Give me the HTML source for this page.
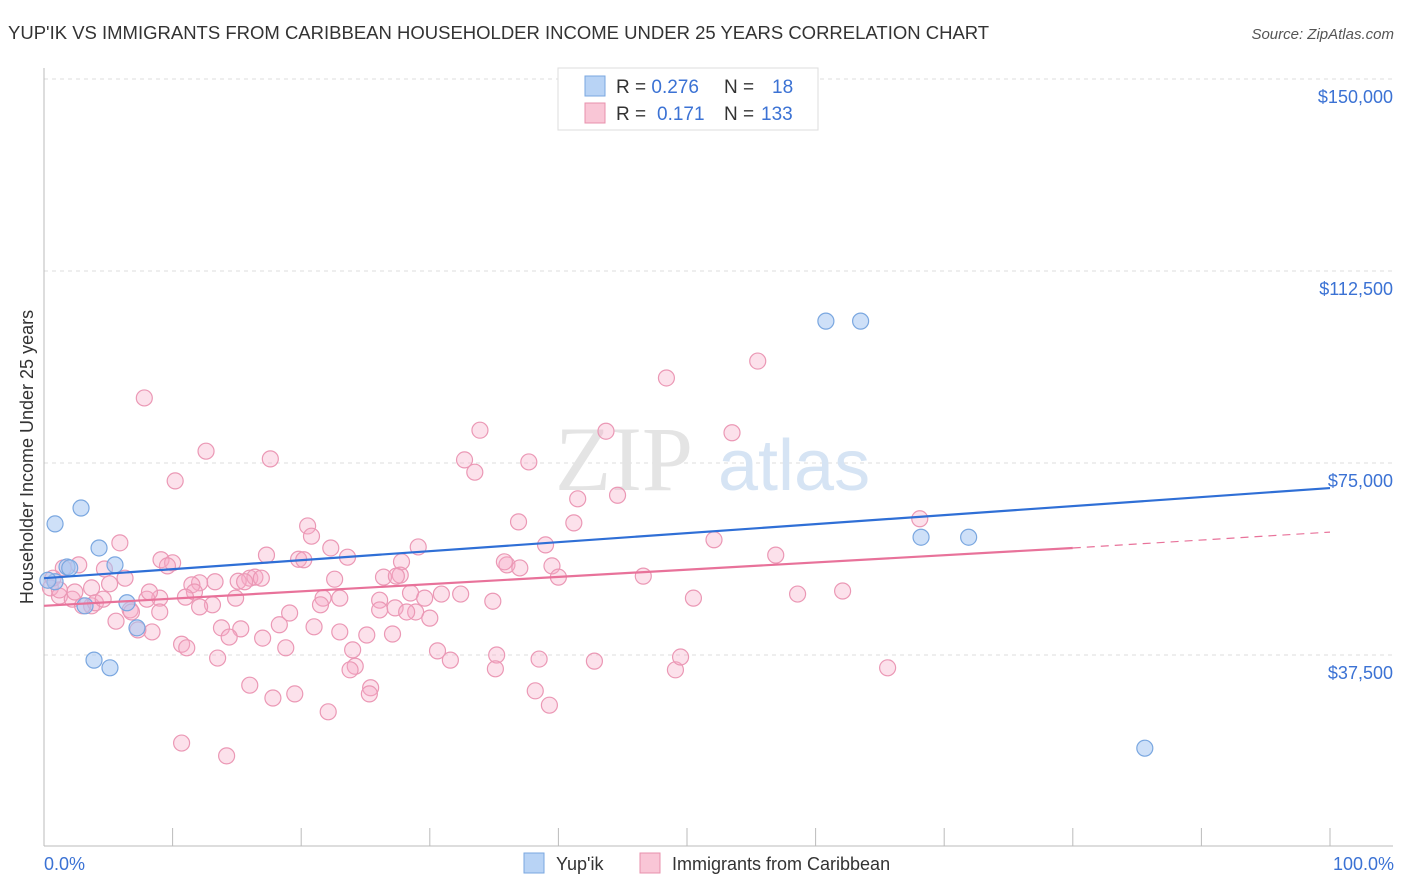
<!DOCTYPE html>
<html><head><meta charset="utf-8"><style>
body{margin:0;background:#fff;font-family:"Liberation Sans",sans-serif;}
svg{display:block}
</style></head><body>
<svg id="chart" width="1406" height="892" xmlns="http://www.w3.org/2000/svg" font-family="Liberation Sans, sans-serif">
<text x="8" y="39" font-size="18.5" fill="#333">YUP'IK VS IMMIGRANTS FROM CARIBBEAN HOUSEHOLDER INCOME UNDER 25 YEARS CORRELATION CHART</text>
<text x="1394" y="39" font-size="15" fill="#555" font-style="italic" text-anchor="end">Source: ZipAtlas.com</text>
<g id="grid"></g>
<g><text x="555" y="490" font-size="92" fill="#e4e4e4" font-family="Liberation Serif, serif">ZIP</text><text x="718" y="490" font-size="72" fill="#d6e4f4">atlas</text></g>
<g id="axes"></g>
<g id="pink"></g>
<g id="blue"></g>
<g id="trends"></g>
<text transform="translate(33,457) rotate(-90)" font-size="18" fill="#333" text-anchor="middle">Householder Income Under 25 years</text>
<text x="44" y="870" font-size="18" fill="#3b72d4">0.0%</text>
<text x="1394" y="870" font-size="18" fill="#3b72d4" text-anchor="end">100.0%</text>
<g>
<rect x="558" y="68" width="260" height="62" fill="#fff" stroke="#ddd"/>
<rect x="585" y="76" width="20" height="20" fill="#b8d3f5" stroke="#7aa7e0"/>
<rect x="585" y="103" width="20" height="20" fill="#f9c6d6" stroke="#e890ac"/>
<text x="616" y="93" font-size="19" fill="#333">R = <tspan fill="#3b72d4">0.276</tspan><tspan x="724">N = </tspan><tspan x="772" fill="#3b72d4">18</tspan></text>
<text x="616" y="120" font-size="19" fill="#333">R = <tspan x="657" fill="#3b72d4">0.171</tspan><tspan x="724">N = </tspan><tspan x="761" fill="#3b72d4">133</tspan></text>
</g>
<g>
<rect x="524" y="853" width="20" height="20" fill="#b8d3f5" stroke="#7aa7e0"/>
<text x="556" y="870" font-size="18" fill="#333">Yup'ik</text>
<rect x="640" y="853" width="20" height="20" fill="#f9c6d6" stroke="#e890ac"/>
<text x="672" y="870" font-size="18" fill="#333">Immigrants from Caribbean</text>
</g>
</svg>
<script>
const yTicks=[37500,75000,112500,150000];
const yTickLabels=["$37,500","$75,000","$112,500","$150,000"];
const xTicks=[0,10,20,30,40,50,60,70,80,90,100];
const blueX=[0.86,2.88,4.28,1.79,5.52,0.86,3.19,6.45,7.23,3.89,5.13,60.8,63.5,68.2,71.9,85.6,0.3,2.0];
const blueY=[63.1,66.2,58.4,54.7,55.1,51.8,47.1,47.7,42.8,36.5,35.0,102.7,102.7,60.5,60.5,19.3,52.1,54.5];
const pinkX=[7.8,10.2,12.6,17.6,33.9,43.7,53.5,55.5,48.4,32.7,33.5,37.7,41.5,44.6,41.2,36.9,68.1,52.1,56.9,20.5,20.8,17.3,19.8,20.2,22.3,23.6,27.8,29.1,27.7,26.4,27.4,22.6,16.0,16.4,16.9,15.1,15.6,13.3,12.1,5.9,4.7,2.7,1.5,0.7,0.5,1.2,2.2,3.7,5.1,6.3,9.1,10.0,9.6,11.5,11.7,13.1,14.9,11.0,9.0,8.0,6.7,3.7,3.0,4.0,6.8,5.6,9.0,12.1,19.1,21.7,23.0,26.1,27.3,28.5,29.6,30.9,32.4,34.9,36.0,37.0,39.5,40.0,35.8,46.6,50.5,58.6,62.1,8.4,7.3,13.8,15.3,14.4,17.0,18.3,21.0,23.0,25.1,27.1,28.9,30.0,26.1,28.2,30.6,31.6,24.0,24.2,23.8,25.4,25.3,35.2,35.1,38.5,42.8,49.1,49.5,65.6,10.7,11.1,13.5,18.8,16.0,17.8,19.5,22.1,38.2,39.3,10.7,14.2,1.2,2.4,4.6,8.2,21.5,39.0];
const pinkY=[87.7,71.5,77.3,75.8,81.4,81.2,80.9,94.9,91.6,75.6,73.2,75.2,68.0,68.7,63.3,63.5,64.1,60.0,57.0,62.7,60.7,57.0,56.2,56.1,58.4,56.6,55.7,58.6,53.1,52.7,52.9,52.3,52.5,52.7,52.5,51.9,51.8,51.8,51.6,59.4,54.3,55.1,54.5,52.5,50.6,49.0,48.4,50.6,51.4,52.5,56.1,55.5,54.9,51.2,49.8,47.3,48.6,48.8,48.6,48.4,46.3,47.1,47.1,47.7,45.9,44.1,45.9,46.9,45.7,48.6,48.6,48.2,46.7,49.6,48.6,49.4,49.4,48.0,55.1,54.5,54.9,52.7,55.7,52.9,48.6,49.4,50.0,42.0,42.4,42.8,42.6,41.0,40.8,43.4,43.0,42.0,41.4,41.6,45.9,44.7,46.3,45.9,38.3,36.5,38.5,35.3,34.6,31.1,29.9,37.5,34.8,36.7,36.3,34.6,37.1,35.0,39.6,38.9,36.9,38.9,31.6,29.1,29.9,26.4,30.5,27.7,20.3,17.8,50.2,49.8,48.4,49.8,47.3,59.0];
const blueTrendX=[0,100];const blueTrendY=[52.5,70.1];
const pinkTrendX=[0,80];const pinkTrendY=[47.1,58.4];
const pinkDashX=[80,100];const pinkDashY=[58.4,61.5];

const NS="http://www.w3.org/2000/svg";
const sx=v=>44+v*12.86;
const sy=v=>847-v*1000/195.3;
const syD=v=>847-v/195.3;
function mk(tag,attrs,parent){const e=document.createElementNS(NS,tag);for(const k in attrs)e.setAttribute(k,attrs[k]);parent.appendChild(e);return e;}
const grid=document.getElementById('grid'),axes=document.getElementById('axes');
yTicks.forEach((t,i)=>{
 const y=syD(t);
 const l=mk('line',{x1:44,x2:1393,y1:y,y2:y,stroke:'#ddd','stroke-dasharray':'4,4'},grid);
 
 
 const tx=mk('text',{x:1393,y:y+24,'font-size':18,fill:'#3b72d4','text-anchor':'end'},axes);
 tx.textContent=yTickLabels[i];
 
 
});
const topLine=mk('line',{x1:44,x2:1393,y1:79,y2:79,stroke:'#ddd','stroke-dasharray':'4,4'},grid);


const ya=mk('line',{x1:44,x2:44,y1:68,y2:846,stroke:'#bbb'},axes);


const xa=mk('line',{x1:44,x2:1393,y1:846,y2:846,stroke:'#bbb'},axes);


xTicks.forEach(t=>{
 const tk=mk('line',{x1:sx(t),x2:sx(t),y1:828,y2:846,stroke:'#bbb'},axes);
 
 
});
const pink=document.getElementById('pink');
pinkX.forEach((x,i)=>{
 const c=mk('circle',{cx:sx(x),cy:sy(pinkY[i]),r:8,fill:'rgba(246,170,198,0.35)',stroke:'#eb98b5','stroke-width':1.2},pink);
 
 
});
const blue=document.getElementById('blue');
blueX.forEach((x,i)=>{
 const c=mk('circle',{cx:sx(x),cy:sy(blueY[i]),r:8,fill:'rgba(165,198,242,0.55)',stroke:'#7aa7e0','stroke-width':1.2},blue);
 
 
});
const tr=document.getElementById('trends');
const bt=mk('line',{x1:sx(blueTrendX[0]),y1:sy(blueTrendY[0]),x2:sx(blueTrendX[1]),y2:sy(blueTrendY[1]),stroke:'#2f6fd6','stroke-width':2.2},tr);


const pt=mk('line',{x1:sx(pinkTrendX[0]),y1:sy(pinkTrendY[0]),x2:sx(pinkTrendX[1]),y2:sy(pinkTrendY[1]),stroke:'#e8729a','stroke-width':2.2},tr);


const pd=mk('line',{x1:sx(pinkDashX[0]),y1:sy(pinkDashY[0]),x2:sx(pinkDashX[1]),y2:sy(pinkDashY[1]),stroke:'#e8729a','stroke-width':1.2,'stroke-dasharray':'8,6'},tr);


</script>
</body></html>
